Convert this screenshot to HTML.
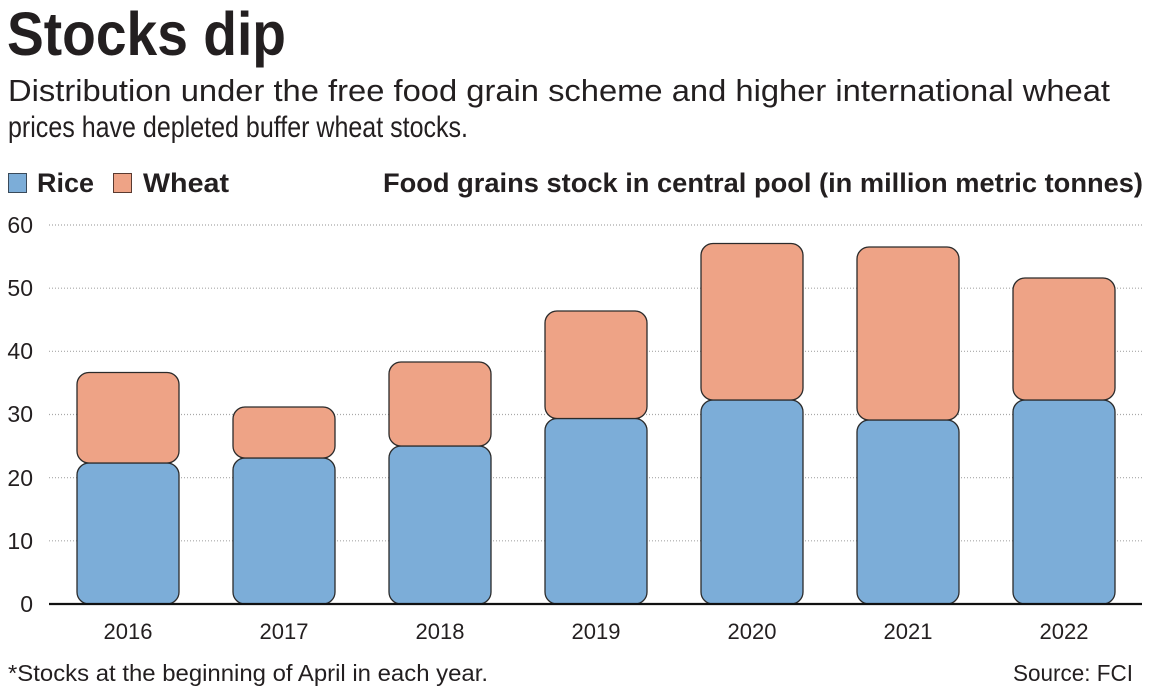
<!DOCTYPE html>
<html>
<head>
<meta charset="utf-8">
<style>
html,body{margin:0;padding:0;background:#fff;}
svg{display:block;}
text{font-family:"Liberation Sans",sans-serif;fill:#231f20;}
</style>
</head>
<body>
<svg width="1151" height="698" viewBox="0 0 1151 698" xmlns="http://www.w3.org/2000/svg">
  <!-- Title -->
  <text x="7" y="55" font-size="61" font-weight="bold" textLength="279" lengthAdjust="spacingAndGlyphs">Stocks dip</text>
  <text x="8" y="101" font-size="30.5" textLength="1102" lengthAdjust="spacingAndGlyphs">Distribution under the free food grain scheme and higher international wheat</text>
  <text x="8" y="137" font-size="29.5" textLength="460" lengthAdjust="spacingAndGlyphs">prices have depleted buffer wheat stocks.</text>

  <!-- Legend -->
  <rect x="8.5" y="173.5" width="18" height="19" fill="#7cadd8" stroke="#3a4a5a" stroke-width="1"/>
  <text x="37" y="192" font-size="27" font-weight="bold" textLength="57" lengthAdjust="spacingAndGlyphs">Rice</text>
  <rect x="113.5" y="173.5" width="18" height="19" fill="#eea386" stroke="#5a3a30" stroke-width="1"/>
  <text x="143" y="192" font-size="27" font-weight="bold" textLength="86" lengthAdjust="spacingAndGlyphs">Wheat</text>
  <text x="383" y="192" font-size="27" font-weight="bold" textLength="760" lengthAdjust="spacingAndGlyphs">Food grains stock in central pool (in million metric tonnes)</text>

  <!-- Gridlines -->
  <g stroke="#a8a8a8" stroke-width="1.2" stroke-dasharray="1 2">
    <line x1="49" y1="225" x2="1143" y2="225"/>
    <line x1="49" y1="288.2" x2="1143" y2="288.2"/>
    <line x1="49" y1="351.3" x2="1143" y2="351.3"/>
    <line x1="49" y1="414.5" x2="1143" y2="414.5"/>
    <line x1="49" y1="477.7" x2="1143" y2="477.7"/>
    <line x1="49" y1="540.8" x2="1143" y2="540.8"/>
  </g>

  <!-- Y labels -->
  <g font-size="23" text-anchor="end">
    <text x="33" y="233">60</text>
    <text x="33" y="296">50</text>
    <text x="33" y="359">40</text>
    <text x="33" y="422">30</text>
    <text x="33" y="486">20</text>
    <text x="33" y="549">10</text>
    <text x="33" y="612">0</text>
  </g>

  <!-- Bars -->
  <g stroke="#2b2b2b" stroke-width="1.3">
    <rect x="77" y="463" width="102" height="141" rx="12" fill="#7cadd8"/>
    <rect x="77" y="372.5" width="102" height="90.5" rx="12" fill="#eea386"/>
    <rect x="233" y="458" width="102" height="146" rx="12" fill="#7cadd8"/>
    <rect x="233" y="407" width="102" height="51" rx="12" fill="#eea386"/>
    <rect x="389" y="446" width="102" height="158" rx="12" fill="#7cadd8"/>
    <rect x="389" y="362" width="102" height="84" rx="12" fill="#eea386"/>
    <rect x="545" y="418.5" width="102" height="185.5" rx="12" fill="#7cadd8"/>
    <rect x="545" y="311" width="102" height="107.5" rx="12" fill="#eea386"/>
    <rect x="701" y="400" width="102" height="204" rx="12" fill="#7cadd8"/>
    <rect x="701" y="243.5" width="102" height="156.5" rx="12" fill="#eea386"/>
    <rect x="857" y="420" width="102" height="184" rx="12" fill="#7cadd8"/>
    <rect x="857" y="247" width="102" height="173" rx="12" fill="#eea386"/>
    <rect x="1013" y="400" width="102" height="204" rx="12" fill="#7cadd8"/>
    <rect x="1013" y="278" width="102" height="122" rx="12" fill="#eea386"/>
  </g>

  <!-- Baseline -->
  <line x1="49" y1="604" x2="1142" y2="604" stroke="#111" stroke-width="2.2"/>

  <!-- X labels -->
  <g font-size="22" text-anchor="middle">
    <text x="128" y="639">2016</text>
    <text x="284" y="639">2017</text>
    <text x="440" y="639">2018</text>
    <text x="596" y="639">2019</text>
    <text x="752" y="639">2020</text>
    <text x="908" y="639">2021</text>
    <text x="1064" y="639">2022</text>
  </g>

  <!-- Footer -->
  <text x="8" y="681" font-size="23" textLength="480" lengthAdjust="spacingAndGlyphs">*Stocks at the beginning of April in each year.</text>
  <text x="1013" y="681" font-size="23" textLength="120" lengthAdjust="spacingAndGlyphs">Source: FCI</text>
</svg>
</body>
</html>
